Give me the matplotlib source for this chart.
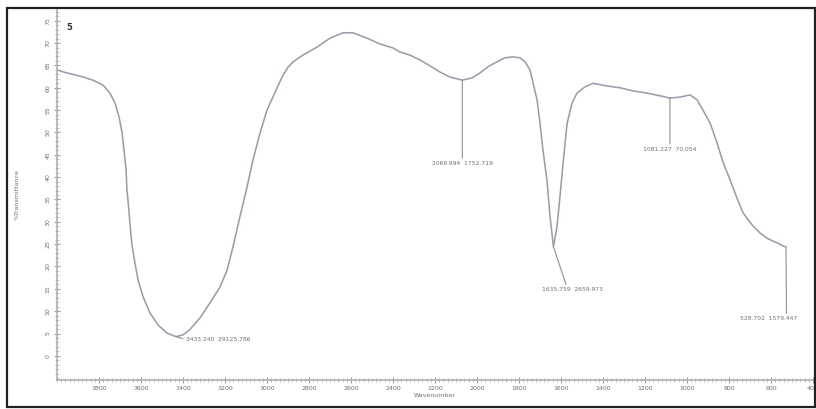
import matplotlib
matplotlib.use("Agg")
import matplotlib.pyplot as plt
from matplotlib.ticker import MultipleLocator, FixedLocator
from matplotlib.patches import Rectangle

# Spectrum (wavenumber cm-1, %T)
wavenumber = [4000, 3952, 3890, 3829, 3781, 3748, 3724, 3705, 3690, 3681, 3671, 3667,
              3662, 3652, 3643, 3629, 3614, 3590, 3557, 3519, 3476, 3433, 3400, 3367,
              3319, 3271, 3224, 3190, 3162, 3129, 3095, 3067, 3033, 3000, 2952, 2924,
              2900, 2876, 2829, 2762, 2700, 2638, 2590, 2524, 2462, 2400, 2367, 2319, 2271,
              2224, 2176, 2129, 2070, 2024, 1986, 1948, 1905, 1867, 1829, 1795, 1771,
              1748, 1733, 1714, 1700, 1686, 1667, 1652, 1636, 1619, 1605, 1590, 1571,
              1548, 1524, 1486, 1448, 1381, 1319, 1257, 1190, 1129, 1081, 1033, 986,
              952, 924, 890, 857, 829, 795, 762, 733, 690, 652, 614, 571, 543, 529]
transmittance = [64.0, 63.3, 62.6, 61.7, 60.6, 58.8, 56.6, 53.5, 49.9, 46.1, 41.6, 37.1,
                 34.9, 29.3, 24.8, 20.8, 17.0, 13.2, 9.6, 6.9, 5.1, 4.3, 4.7, 5.9,
                 8.5, 11.9, 15.4, 19.2, 24.4, 31.1, 37.8, 43.8, 49.9, 55.0, 60.0, 62.8,
                 64.6, 65.8, 67.3, 69.1, 71.1, 72.3, 72.3, 71.1, 69.8, 68.9, 68.0, 67.3, 66.2,
                 64.9, 63.5, 62.4, 61.7, 62.2, 63.3, 64.7, 65.8, 66.7, 66.9, 66.7, 65.8,
                 64.0, 61.1, 57.3, 52.1, 46.1, 39.4, 31.1, 24.4, 28.9, 35.6, 43.2, 52.0,
                 56.5, 58.8, 60.2, 61.0, 60.4, 60.0, 59.3, 58.8, 58.2, 57.7, 57.9, 58.4,
                 57.3, 55.0, 52.1, 47.7, 43.4, 39.4, 35.3, 32.0, 29.3, 27.5, 26.2, 25.3,
                 24.6, 24.4]

peak_x = [3433.240, 2069.694, 1635.759, 1081.227, 528.702]
peak_y = [4.3, 61.7, 24.4, 57.7, 24.4]
peak_labels = ["3433.240  29125.786", "2069.694  1752.719", "1635.759  2659.973",
               "1081.227  70.054", "528.702  1579.447"]

x_ticks = list(range(3800, 399, -200))
y_ticks = list(range(0, 76, 5))

W, H = 816, 409
fig = plt.figure(figsize=(W / 100, H / 100), dpi=100)
fig.patch.set_facecolor("white")

# outer frame
fig.add_artist(Rectangle((7 / W, 2 / H), (W - 8) / W, (H - 10) / H, transform=fig.transFigure,
                         fill=False, edgecolor="#222222", linewidth=1.6))

left, right, top, bottom = 57, 813, 10, 380
ax = fig.add_axes([left / W, 1 - bottom / H, (right - left) / W, (bottom - top) / H])
ax.set_facecolor("white")

line_color = "#9c9cab"
text_color = "#707070"
ax.plot(wavenumber, transmittance, color=line_color, linewidth=1.15,
        solid_joinstyle="round", solid_capstyle="round")

ax.set_xlim(4000, 400)
ax.set_ylim(-5.4, 77.4)

for s in ["top", "right"]:
    ax.spines[s].set_visible(False)
for s in ["left", "bottom"]:
    ax.spines[s].set_color("#b0b0b0")
    ax.spines[s].set_linewidth(1.2)

ax.xaxis.set_major_locator(FixedLocator(x_ticks))
ax.xaxis.set_minor_locator(MultipleLocator(20))
ax.yaxis.set_major_locator(FixedLocator(y_ticks))
ax.yaxis.set_minor_locator(MultipleLocator(1))
ax.tick_params(axis="both", which="major", colors="#a0a0a0", labelcolor=text_color,
               labelsize=4.5, length=5, width=0.8, direction="inout", pad=2)
ax.tick_params(axis="both", which="minor", colors="#b8b8b8", length=3, width=0.6,
               direction="inout")
for lab in ax.get_yticklabels():
    lab.set_rotation(90)
    lab.set_va("center")

ax.set_xlabel("Wavenumber", fontsize=4.5, color=text_color, labelpad=1)
ax.set_ylabel("%Transmittance", fontsize=4.5, color=text_color, labelpad=19)

ax.text(0.013, 0.952, "5", transform=ax.transAxes, fontsize=6, color="#333333",
        fontweight="bold", ha="left", va="center")

# peak annotations (offsets in points)
offsets = [(7, -2), (0, -58), (14, -29), (0, -35), (-33, -50)]
has = ["left", "center", "center", "center", "left"]
vas = ["center", "top", "top", "top", "top"]
relpos = [(0, 0.5), (0.5, 1), (0.4, 1), (0.5, 1), (0.81, 1)]
for px, py, lab, off, ha, va, rp in zip(peak_x, peak_y, peak_labels, offsets, has, vas, relpos):
    ax.annotate(lab, xy=(px, py), xytext=off, textcoords="offset points",
                fontsize=4.3, color=text_color, ha=ha, va=va,
                arrowprops=dict(arrowstyle="-", color="#909090", lw=0.8,
                                shrinkA=0, shrinkB=0, relpos=rp),
                annotation_clip=False)

fig.savefig("out.png", dpi=100, facecolor="white")
